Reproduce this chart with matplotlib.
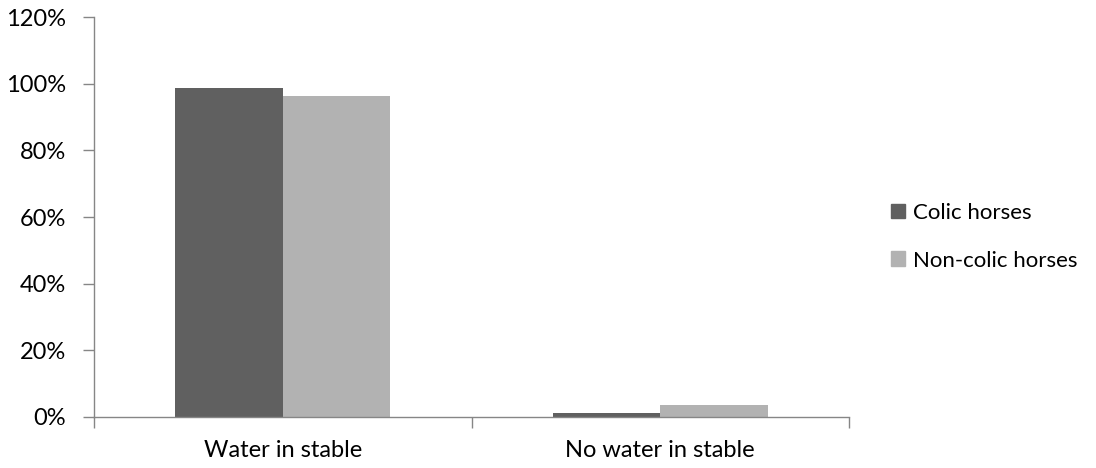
import matplotlib
matplotlib.use("Agg")
import matplotlib.pyplot as plt
from matplotlib.ticker import FuncFormatter
from matplotlib.patches import Patch
import numpy as np

categories = ["Water in stable", "No water in stable"]
series_names = ["Colic horses", "Non-colic horses"]
colic = [98.8, 1.0]
non_colic = [96.3, 3.5]
colors = ["#606060", "#b2b2b2"]
yticks = [0, 20, 40, 60, 80, 100, 120]

plt.rcParams['font.family'] = ['Lato', 'DejaVu Sans']
FS = 17

fig = plt.figure(figsize=(10.96, 4.68), dpi=100)
ax = fig.add_axes([94/1096, 1-416.7/468, (849-94)/1096, (416.7-17.3)/468])

x = np.arange(len(categories)) + 0.5
w = 0.285
ax.bar(x - w/2, colic, width=w, color=colors[0], label=series_names[0])
ax.bar(x + w/2, non_colic, width=w, color=colors[1], label=series_names[1])

ax.set_xlim(0, len(categories))
ax.set_ylim(0, 120)
ax.set_yticks(yticks)
ax.yaxis.set_major_formatter(FuncFormatter(lambda v, p: f"{int(v)}%"))
ax.set_xticks(np.arange(len(categories) + 1))
ax.set_xticklabels([])
ax.set_xticks(x, minor=True)
ax.set_xticklabels(categories, minor=True)
ax.tick_params(axis='x', which='minor', length=0, pad=17, labelsize=FS)
ax.tick_params(axis='x', which='major', length=8, color='#868686', width=1)
ax.tick_params(axis='y', length=8, color='#868686', width=1, labelsize=FS, pad=12)

for s in ['top', 'right']:
    ax.spines[s].set_visible(False)
for s in ['left', 'bottom']:
    ax.spines[s].set_color('#868686')
    ax.spines[s].set_linewidth(1)

handles = [Patch(color=c, label=n) for c, n in zip(colors, series_names)]
fig.legend(handles=handles, loc='center left', bbox_to_anchor=(891/1096, 1-236.7/468),
           frameon=False, fontsize=16, handlelength=0.65, handleheight=0.65,
           handletextpad=0.35, labelspacing=1.25, borderpad=0, borderaxespad=0)

fig.savefig("out.png", dpi=100)
